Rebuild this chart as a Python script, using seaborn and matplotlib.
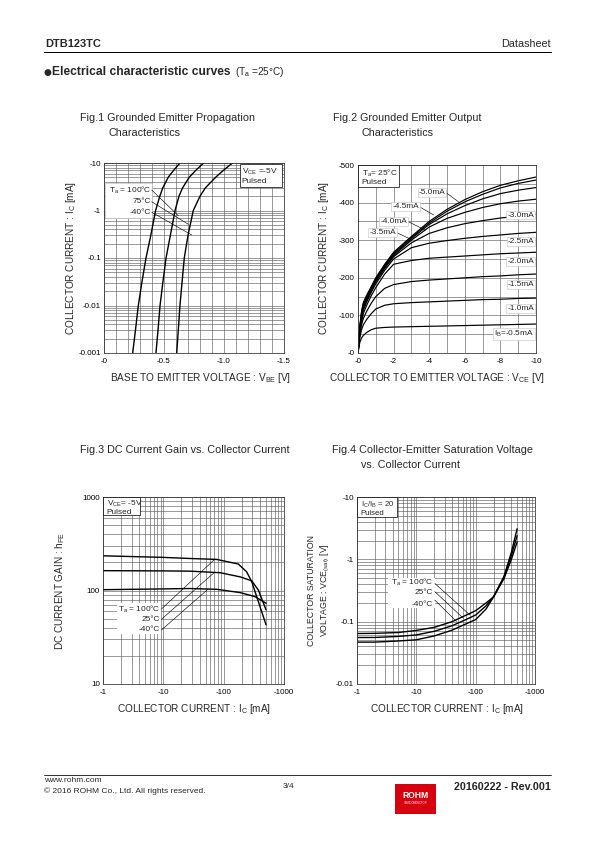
import numpy as np
import pandas as pd
import matplotlib
matplotlib.use("Agg")
import matplotlib.pyplot as plt
import seaborn as sns
from matplotlib.ticker import LogLocator, MultipleLocator, FixedLocator, FixedFormatter, NullFormatter
from matplotlib.patches import Rectangle
from matplotlib.lines import Line2D

# ---------------- Fig.1 data (Grounded emitter propagation) ----------------
fig1_ic = [0.001, 0.003, 0.01, 0.03, 0.1, 0.3, 1, 2, 3, 5, 7, 10]          # |IC| mA
fig1_vbe_100 = [-0.239, -0.262, -0.286, -0.315, -0.35, -0.39, -0.43, -0.465, -0.49, -0.535, -0.58, -0.633]
fig1_vbe_75 = [-0.433, -0.45, -0.467, -0.49, -0.517, -0.553, -0.592, -0.625, -0.655, -0.71, -0.765, -0.83]
fig1_vbe_m40 = [-0.606, -0.619, -0.633, -0.65, -0.669, -0.70, -0.744, -0.80, -0.845, -0.93, -0.995, -1.07]
fig1_temps = ["100", "75", "-40"]
fig1_leader_v = [-0.619, -0.703, -0.731]
fig1_leader_ic = [0.778, 0.512, 0.305]
fig1_xticks = [0, -0.5, -1.0, -1.5]
fig1_xticklabels = ["-0", "-0.5", "-1.0", "-1.5"]
fig1_yticks = [0.001, 0.01, 0.1, 1, 10]
fig1_yticklabels = ["-0.001", "-0.01", "-0.1", "-1", "-10"]

# ---------------- Fig.2 data (Grounded emitter output) ----------------
fig2_vce = [0, -0.1, -0.2, -0.3, -0.5, -0.75, -1, -1.5, -2, -3, -4, -5, -6, -7, -8, -9, -10]
fig2_ib = ["-0.5", "-1.0", "-1.5", "-2.0", "-2.5", "-3.0", "-3.5", "-4.0", "-4.5", "-5.0"]
fig2_ic = [
    [0, -28, -40, -47, -55, -62, -66, -68, -69, -70, -71, -72, -73, -74, -75, -76, -77],
    [0, -40, -62, -75, -90, -105, -117, -127, -131, -134, -136, -138, -140, -142, -143, -145, -146],
    [0, -48, -75, -92, -112, -133, -150, -172, -182, -190, -194, -197, -200, -203, -205, -208, -210],
    [0, -53, -83, -105, -128, -153, -174, -210, -236, -246, -252, -255, -258, -261, -264, -266, -268],
    [0, -56, -90, -113, -137, -162, -184, -220, -250, -280, -292, -299, -305, -310, -314, -318, -321],
    [0, -60, -96, -119, -142, -167, -189, -225, -256, -293, -318, -333, -344, -352, -359, -364, -369],
    [0, -63, -101, -124, -146, -170, -192, -228, -259, -300, -335, -358, -374, -387, -397, -404, -409],
    [0, -66, -105, -128, -149, -173, -195, -231, -262, -304, -342, -370, -392, -410, -424, -433, -440],
    [0, -68, -108, -131, -152, -175, -198, -234, -265, -307, -346, -377, -402, -422, -439, -451, -460],
    [0, -70, -111, -134, -155, -177, -200, -236, -268, -310, -350, -382, -408, -429, -446, -458, -468],
]
fig2_left_labels = ["-5.0mA", "-4.5mA", "-4.0mA", "-3.5mA"]
fig2_left_label_v = [-4.15, -2.67, -2.0, -1.39]
fig2_left_label_i = [-428, -390, -351, -321]
fig2_left_leader_v = [-5.65, -4.25, -3.78, -2.94]
fig2_left_leader_i = [-402, -367, -327, -303]
fig2_right_labels = ["-3.0mA", "-2.5mA", "-2.0mA", "-1.5mA", "-1.0mA", "I$_{\\rm B}$=-0.5mA"]
fig2_right_label_i = [-367, -296, -243, -181, -119, -50]
fig2_xticks = [0, -2, -4, -6, -8, -10]
fig2_xticklabels = ["-0", "-2", "-4", "-6", "-8", "-10"]
fig2_yticks = [0, -100, -200, -300, -400, -500]
fig2_yticklabels = ["-0", "-100", "-200", "-300", "-400", "-500"]

# ---------------- Fig.3 data (DC current gain) ----------------
fig3_ic_100 = [1, 10, 27.5, 76.5, 175, 241, 292, 353, 504]
fig3_hfe_100 = [235, 226, 220, 215, 192, 158, 124, 86, 43]
fig3_ic_25 = [1, 10, 27.5, 86.9, 187, 292, 376, 504]
fig3_hfe_25 = [163, 162, 161, 155, 140, 127, 101, 62]
fig3_ic_m40 = [1, 10, 27.5, 76.5, 187, 331, 504]
fig3_hfe_m40 = [102, 104, 105, 103, 95, 86, 73]
fig3_leader_ic = [71.7, 71.7, 55.5]
fig3_leader_hfe = [217, 158, 103.8]
fig3_xticks = [1, 10, 100, 1000]
fig3_xticklabels = ["-1", "-10", "-100", "-1000"]
fig3_yticks = [10, 100, 1000]
fig3_yticklabels = ["10", "100", "1000"]

# ---------------- Fig.4 data (VCE(sat)) ----------------
fig4_ic = [1, 2, 5, 10, 20, 40, 70, 100, 150, 200, 300, 400, 500]
fig4_v_100 = [0.0646, 0.065, 0.067, 0.0724, 0.081, 0.100, 0.128, 0.150, 0.200, 0.25, 0.49, 1.00, 1.9]
fig4_v_25 = [0.0557, 0.0558, 0.058, 0.0613, 0.070, 0.086, 0.109, 0.128, 0.180, 0.25, 0.52, 1.15, 2.4]
fig4_v_m40 = [0.047, 0.047, 0.049, 0.0512, 0.059, 0.073, 0.093, 0.108, 0.160, 0.25, 0.53, 1.30, 3.1]
fig4_leader_ic = [80, 61.6, 47.7]
fig4_leader_v = [0.128, 0.114, 0.1005]
fig4_xticks = [1, 10, 100, 1000]
fig4_xticklabels = ["-1", "-10", "-100", "-1000"]
fig4_yticks = [0.01, 0.1, 1, 10]
fig4_yticklabels = ["-0.01", "-0.1", "-1", "-10"]

# ---------------- style ----------------
sns.set_style("white")
plt.rcParams["font.family"] = ["Liberation Sans", "DejaVu Sans"]
plt.rcParams["mathtext.fontset"] = "custom"
plt.rcParams["mathtext.rm"] = "Liberation Sans"
plt.rcParams["mathtext.it"] = "Liberation Sans:italic"
plt.rcParams["mathtext.bf"] = "Liberation Sans:bold"
plt.rcParams["axes.unicode_minus"] = False

W, H = 595, 842
fig = plt.figure(figsize=(W / 72, H / 72), dpi=72)
fig.patch.set_facecolor("white")

GRID_C = "#5a5a5a"
LW = 1.4
TICK_FS = 8
BOX_FS = 8.2
TITLE_FS = 10.8
LABEL_FS = 10


def fx(x):
    return x / W


def fy(y):
    return 1 - y / H


def make_ax(l, t, r, b):
    ax = fig.add_axes([l / W, 1 - b / H, (r - l) / W, (b - t) / H])
    for s in ax.spines.values():
        s.set_color("#333333")
        s.set_linewidth(0.8)
    ax.tick_params(which="both", length=0, labelsize=TICK_FS, colors="black")
    ax.tick_params(axis="y", pad=3)
    ax.tick_params(axis="x", pad=5)
    return ax


def ptext(x, y, s, **kw):
    kw.setdefault("fontsize", 9)
    kw.setdefault("va", "center")
    return fig.text(fx(x), fy(y), s, **kw)


def style_grid(ax):
    ax.grid(which="both", color=GRID_C, lw=0.6)
    ax.set_axisbelow(True)


# ---------------- page decorations ----------------
ptext(45, 44, "DTB123TC", fontweight="bold", fontsize=11)
ptext(551, 44, "Datasheet", ha="right", fontsize=10.8)
fig.add_artist(Line2D([fx(44), fx(551)], [fy(52), fy(52)], color="black", lw=1.0))
ptext(44, 72, "\u25cf", fontsize=9, family=["DejaVu Sans"])
t_head = ptext(52.5, 72, "Electrical characteristic curves", fontweight="bold", fontsize=12)
fig.canvas.draw()
x_end = t_head.get_window_extent().x1
fig.text((x_end + 4) / W, fy(72), "(T$_{\\rm a}$ =25°C)", fontsize=10, va="center")

ptext(80, 118, "Fig.1 Grounded Emitter Propagation", fontsize=TITLE_FS)
ptext(109, 133, "Characteristics", fontsize=TITLE_FS)
ptext(333, 118, "Fig.2 Grounded Emitter Output", fontsize=TITLE_FS)
ptext(361, 133, "Characteristics", fontsize=TITLE_FS)
ptext(80, 450, "Fig.3 DC Current Gain vs. Collector Current", fontsize=TITLE_FS)
ptext(332, 450, "Fig.4 Collector-Emitter Saturation Voltage", fontsize=TITLE_FS)
ptext(361, 465, "vs. Collector Current", fontsize=TITLE_FS)

fig.add_artist(Line2D([fx(44), fx(551)], [fy(775), fy(775)], color="black", lw=0.8))
ptext(44, 780, "www.rohm.com", fontsize=8.4)
ptext(44, 791, "© 2016 ROHM Co., Ltd. All rights reserved.", fontsize=8.4)
ptext(283, 787, "3/4", fontsize=8.4)
ptext(551, 787, "20160222 - Rev.001", fontsize=10.8, fontweight="bold", ha="right")
fig.add_artist(Rectangle((fx(395), fy(814)), (436 - 395) / W, 30 / H,
                         transform=fig.transFigure, fc="#d7000f", ec="none"))
ptext(415.5, 796, "ROHM", fontsize=8.5, fontweight="bold", color="white", ha="center")
ptext(415.5, 803.5, "SEMICONDUCTOR", fontsize=2.6, color="white", ha="center")

# ---------------- Fig.1 ----------------
ax1 = make_ax(104, 163, 284, 353)
rows = []
for t, vs in zip(fig1_temps, [fig1_vbe_100, fig1_vbe_75, fig1_vbe_m40]):
    for v, i in zip(vs, fig1_ic):
        rows.append({"VBE": v, "IC": i, "Ta": t})
df1 = pd.DataFrame(rows)
sns.lineplot(data=df1, x="VBE", y="IC", hue="Ta", palette=["black"] * 3, legend=False,
             estimator=None, sort=False, lw=LW, ax=ax1)
ax1.set_yscale("log")
ax1.set_xlim(0, -1.5)
ax1.set_ylim(0.001, 10)
ax1.xaxis.set_major_locator(FixedLocator(fig1_xticks))
ax1.xaxis.set_major_formatter(FixedFormatter(fig1_xticklabels))
ax1.xaxis.set_minor_locator(MultipleLocator(0.1))
ax1.yaxis.set_major_locator(FixedLocator(fig1_yticks))
ax1.yaxis.set_major_formatter(FixedFormatter(fig1_yticklabels))
ax1.yaxis.set_minor_locator(LogLocator(base=10, subs=range(2, 10)))
ax1.yaxis.set_minor_formatter(NullFormatter())
style_grid(ax1)
ax1.set_xlabel("")
ax1.set_ylabel("")
ax1.add_patch(Rectangle((0.006, 0.711), 0.261, 0.184, transform=ax1.transAxes,
                        fc="white", ec="#bbbbbb", lw=0.6, zorder=3))
ax1.add_patch(Rectangle((0.756, 0.875), 0.232, 0.118, transform=ax1.transAxes,
                        fc="white", ec="black", lw=0.7, zorder=3))
ax1.text(0.765, 0.953, "V$_{\\rm CE}$ =-5V", transform=ax1.transAxes, fontsize=BOX_FS, va="center", zorder=4)
ax1.text(0.765, 0.903, "Pulsed", transform=ax1.transAxes, fontsize=BOX_FS, va="center", zorder=4)
for lab, y0, lv, li in zip(["T$_{\\rm a}$ = 100°C", "75°C", "-40°C"], [0.858, 0.796, 0.741],
                           fig1_leader_v, fig1_leader_ic):
    ax1.text(0.262, y0, lab, transform=ax1.transAxes, fontsize=BOX_FS, ha="right", va="center", zorder=4)
    ax1.annotate("", xy=(lv, li), xycoords="data", xytext=(0.265, y0), textcoords="axes fraction",
                 arrowprops=dict(arrowstyle="-", lw=0.6, color="black", shrinkA=0, shrinkB=0), zorder=4)
ptext(71, 258, "COLLECTOR CURRENT : I$_{\\rm C}$ [mA]", rotation=90, ha="center", fontsize=LABEL_FS)
ptext(201, 378, "BASE TO EMITTER VOLTAGE : V$_{\\rm BE}$ [V]", ha="center", fontsize=LABEL_FS)

# ---------------- Fig.2 ----------------
ax2 = make_ax(358, 165, 536, 353)
rows = []
for ib, ics in zip(fig2_ib, fig2_ic):
    for v, i in zip(fig2_vce, ics):
        rows.append({"VCE": v, "IC": i, "IB": ib})
df2 = pd.DataFrame(rows)
sns.lineplot(data=df2, x="VCE", y="IC", hue="IB", palette=["black"] * len(fig2_ib), legend=False,
             estimator=None, sort=False, lw=1.2, ax=ax2)
ax2.set_xlim(0, -10)
ax2.set_ylim(0, -500)
ax2.xaxis.set_major_locator(FixedLocator(fig2_xticks))
ax2.xaxis.set_major_formatter(FixedFormatter(fig2_xticklabels))
ax2.xaxis.set_minor_locator(MultipleLocator(1))
ax2.yaxis.set_major_locator(FixedLocator(fig2_yticks))
ax2.yaxis.set_major_formatter(FixedFormatter(fig2_yticklabels))
ax2.yaxis.set_minor_locator(MultipleLocator(50))
style_grid(ax2)
ax2.set_xlabel("")
ax2.set_ylabel("")
ax2.add_patch(Rectangle((0.0, 0.885), 0.228, 0.115, transform=ax2.transAxes,
                        fc="white", ec="black", lw=0.7, zorder=3))
ax2.text(0.02, 0.955, "T$_{\\rm a}$= 25°C", transform=ax2.transAxes, fontsize=BOX_FS, va="center", zorder=4)
ax2.text(0.02, 0.905, "Pulsed", transform=ax2.transAxes, fontsize=BOX_FS, va="center", zorder=4)
lab_box = dict(boxstyle="square,pad=0.12", fc="white", ec="#bbbbbb", lw=0.5)
for lab, tv, ti, lv, li in zip(fig2_left_labels, fig2_left_label_v, fig2_left_label_i,
                               fig2_left_leader_v, fig2_left_leader_i):
    ax2.annotate(lab, xy=(lv, li), xytext=(tv, ti), fontsize=BOX_FS, ha="center", va="center",
                 bbox=lab_box, zorder=5,
                 arrowprops=dict(arrowstyle="-", lw=0.6, color="black", shrinkA=0, shrinkB=0,
                                 relpos=(1.0, 0.5)))
for lab, ti in zip(fig2_right_labels, fig2_right_label_i):
    ax2.text(-9.9, ti, lab, fontsize=BOX_FS, ha="right", va="center", bbox=lab_box, zorder=5)
ptext(324, 258, "COLLECTOR CURRENT : I$_{\\rm C}$ [mA]", rotation=90, ha="center", fontsize=LABEL_FS)
ptext(437, 378, "COLLECTOR TO EMITTER VOLTAGE : V$_{\\rm CE}$ [V]", ha="center", fontsize=LABEL_FS)

# ---------------- Fig.3 ----------------
ax3 = make_ax(103, 497, 284, 684)
rows = []
for t, ics, hs in zip(["100", "25", "-40"], [fig3_ic_100, fig3_ic_25, fig3_ic_m40],
                      [fig3_hfe_100, fig3_hfe_25, fig3_hfe_m40]):
    for i, h in zip(ics, hs):
        rows.append({"IC": i, "hFE": h, "Ta": t})
df3 = pd.DataFrame(rows)
sns.lineplot(data=df3, x="IC", y="hFE", hue="Ta", palette=["black"] * 3, legend=False,
             estimator=None, sort=False, lw=LW, ax=ax3)
ax3.set_xscale("log")
ax3.set_yscale("log")
ax3.set_xlim(1, 1000)
ax3.set_ylim(10, 1000)
for axis, ticks, labels in [(ax3.xaxis, fig3_xticks, fig3_xticklabels), (ax3.yaxis, fig3_yticks, fig3_yticklabels)]:
    axis.set_major_locator(FixedLocator(ticks))
    axis.set_major_formatter(FixedFormatter(labels))
    axis.set_minor_locator(LogLocator(base=10, subs=range(2, 10)))
    axis.set_minor_formatter(NullFormatter())
style_grid(ax3)
ax3.set_xlabel("")
ax3.set_ylabel("")
ax3.add_patch(Rectangle((0.0, 0.902), 0.203, 0.098, transform=ax3.transAxes,
                        fc="white", ec="black", lw=0.7, zorder=3))
ax3.text(0.02, 0.962, "V$_{\\rm CE}$= -5V", transform=ax3.transAxes, fontsize=BOX_FS, va="center", zorder=4)
ax3.text(0.02, 0.918, "Pulsed", transform=ax3.transAxes, fontsize=BOX_FS, va="center", zorder=4)
ax3.add_patch(Rectangle((0.076, 0.268), 0.244, 0.165, transform=ax3.transAxes,
                        fc="white", ec="none", zorder=3))
for lab, y0, li, lh in zip(["T$_{\\rm a}$ = 100°C", "25°C", "-40°C"], [0.401, 0.346, 0.289],
                           fig3_leader_ic, fig3_leader_hfe):
    ax3.text(0.316, y0, lab, transform=ax3.transAxes, fontsize=BOX_FS, ha="right", va="center", zorder=4)
    ax3.annotate("", xy=(li, lh), xycoords="data", xytext=(0.323, y0), textcoords="axes fraction",
                 arrowprops=dict(arrowstyle="-", lw=0.6, color="black", shrinkA=0, shrinkB=0), zorder=4)
ptext(60, 591, "DC CURRENT GAIN : h$_{\\rm FE}$", rotation=90, ha="center", fontsize=LABEL_FS)
ptext(194, 709, "COLLECTOR CURRENT : I$_{\\rm C}$ [mA]", ha="center", fontsize=LABEL_FS)

# ---------------- Fig.4 ----------------
ax4 = make_ax(357, 497, 535, 684)
rows = []
for t, vs in zip(["100", "25", "-40"], [fig4_v_100, fig4_v_25, fig4_v_m40]):
    for i, v in zip(fig4_ic, vs):
        rows.append({"IC": i, "VCE": v, "Ta": t})
df4 = pd.DataFrame(rows)
sns.lineplot(data=df4, x="IC", y="VCE", hue="Ta", palette=["black"] * 3, legend=False,
             estimator=None, sort=False, lw=LW, ax=ax4)
ax4.set_xscale("log")
ax4.set_yscale("log")
ax4.set_xlim(1, 1000)
ax4.set_ylim(0.01, 10)
for axis, ticks, labels in [(ax4.xaxis, fig4_xticks, fig4_xticklabels), (ax4.yaxis, fig4_yticks, fig4_yticklabels)]:
    axis.set_major_locator(FixedLocator(ticks))
    axis.set_major_formatter(FixedFormatter(labels))
    axis.set_minor_locator(LogLocator(base=10, subs=range(2, 10)))
    axis.set_minor_formatter(NullFormatter())
style_grid(ax4)
ax4.set_xlabel("")
ax4.set_ylabel("")
ax4.add_patch(Rectangle((0.0, 0.893), 0.222, 0.107, transform=ax4.transAxes,
                        fc="white", ec="black", lw=0.7, zorder=3))
ax4.text(0.02, 0.96, "I$_{\\rm C}$/I$_{\\rm B}$ = 20", transform=ax4.transAxes, fontsize=7.8, va="center", zorder=4)
ax4.text(0.02, 0.913, "Pulsed", transform=ax4.transAxes, fontsize=7.8, va="center", zorder=4)
ax4.add_patch(Rectangle((0.174, 0.408), 0.263, 0.157, transform=ax4.transAxes,
                        fc="white", ec="none", zorder=3))
for lab, y0, y1, li, lv in zip(["T$_{\\rm a}$ = 100°C", "25°C", "-40°C"], [0.545, 0.487, 0.427],
                               [0.538, 0.494, 0.449], fig4_leader_ic, fig4_leader_v):
    ax4.text(0.428, y0, lab, transform=ax4.transAxes, fontsize=BOX_FS, ha="right", va="center", zorder=4)
    ax4.annotate("", xy=(li, lv), xycoords="data", xytext=(0.437, y1), textcoords="axes fraction",
                 arrowprops=dict(arrowstyle="-", lw=0.6, color="black", shrinkA=0, shrinkB=0), zorder=4)
ptext(312, 590, "COLLECTOR SATURATION", rotation=90, ha="center", fontsize=8.8)
ptext(325, 590, "VOLTAGE : VCE$_{\\rm (sat)}$ [V]", rotation=90, ha="center", fontsize=8.8)
ptext(447, 709, "COLLECTOR CURRENT : I$_{\\rm C}$ [mA]", ha="center", fontsize=LABEL_FS)

fig.savefig("out.png", dpi=72, facecolor="white")
